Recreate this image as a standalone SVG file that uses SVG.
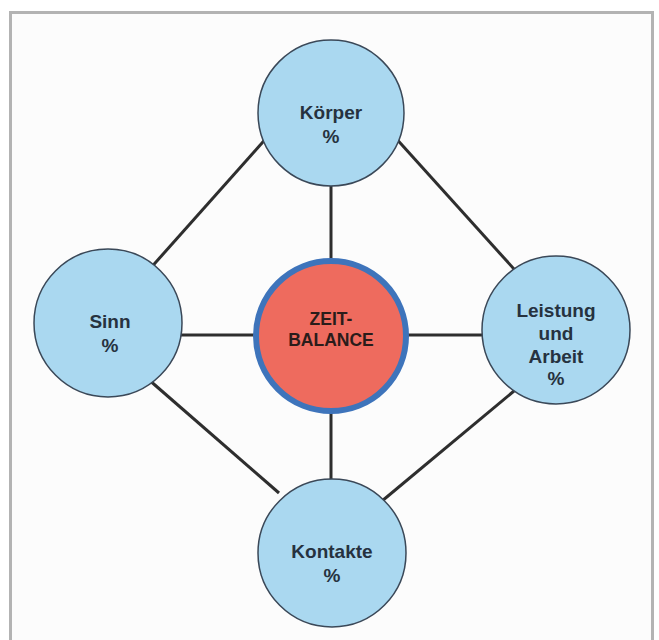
<svg xmlns="http://www.w3.org/2000/svg" width="659" height="640" viewBox="0 0 659 640">
<style>
.node{fill:#aad8f0;stroke:#3a4858;stroke-width:1.5}
.conn line{stroke:#2e2e2e;stroke-width:3;stroke-linecap:butt}
text{font-family:"Liberation Sans",Arial,sans-serif;font-weight:bold;font-size:19px;fill:#26323f;text-anchor:middle}
.center{font-size:17.5px;fill:#2a1c1a}
</style>
<rect x="0" y="0" width="659" height="640" fill="#ffffff"/>
<rect x="10.5" y="12.5" width="642" height="640" fill="#fcfcfc" stroke="#b3b3b3" stroke-width="3"/>
<g id="connectors" class="conn">
<line x1="270" y1="134" x2="148" y2="271"/>
<line x1="393" y1="135" x2="523" y2="279"/>
<line x1="148" y1="379" x2="279" y2="493"/>
<line x1="514" y1="391" x2="376" y2="506"/>
<line x1="331" y1="180" x2="331" y2="262"/>
<line x1="331" y1="410" x2="331" y2="485"/>
<line x1="176" y1="335" x2="258" y2="335"/>
<line x1="404" y1="335" x2="488" y2="335"/>
</g>
<g id="koerper">
<circle class="node" cx="331" cy="113" r="73"/>
<text x="331" y="119">Körper</text>
<text x="331" y="143">%</text>
</g>
<g id="sinn">
<circle class="node" cx="108" cy="323" r="74"/>
<text x="110" y="328">Sinn</text>
<text x="110" y="352">%</text>
</g>
<g id="leistung">
<circle class="node" cx="556" cy="330" r="74"/>
<text x="556" y="317">Leistung</text>
<text x="556" y="340">und</text>
<text x="556" y="363">Arbeit</text>
<text x="556" y="385">%</text>
</g>
<g id="kontakte">
<circle class="node" cx="332" cy="553" r="74"/>
<text x="332" y="558">Kontakte</text>
<text x="332" y="582">%</text>
</g>
<g id="zeitbalance">
<circle cx="331" cy="336" r="75" fill="#ee6b5e" stroke="#3e74bb" stroke-width="6"/>
<text class="center" x="331" y="325">ZEIT-</text>
<text class="center" x="331" y="346">BALANCE</text>
</g>
</svg>
